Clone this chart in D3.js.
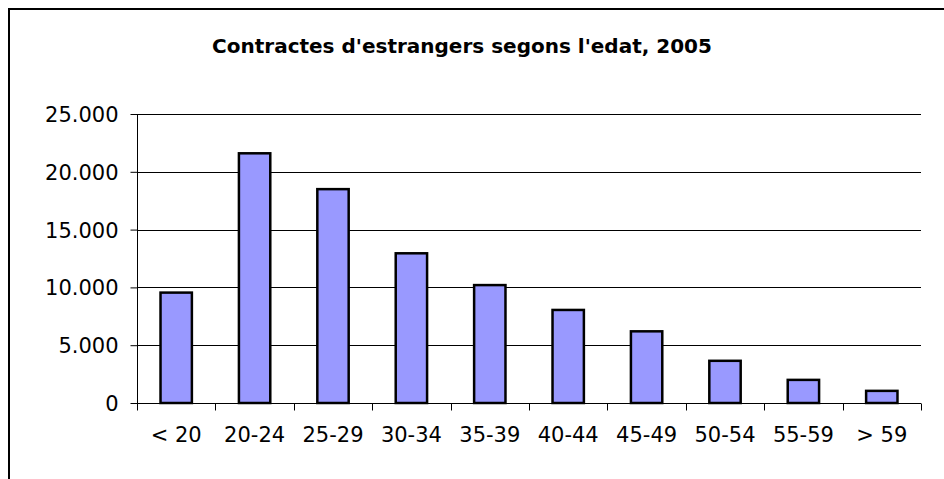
<!DOCTYPE html>
<html>
<head>
<meta charset="utf-8">
<script src="https://cdn.jsdelivr.net/npm/d3@7"></script>
<style>
  html, body { margin: 0; padding: 0; background: #fff; }
  svg { display: block; font-family: "DejaVu Sans", Verdana, sans-serif; }
</style>
</head>
<body>
<div id="chart"></div>
<script>
const categories = ['< 20', '20-24', '25-29', '30-34', '35-39', '40-44', '45-49', '50-54', '55-59', '> 59'];
const contracts  = [9550, 21600, 18500, 12950, 10200, 8050, 6200, 3650, 2000, 1050];
const yTicks     = [0, 5000, 10000, 15000, 20000, 25000];
const title      = "Contractes d'estrangers segons l'edat, 2005";

const width  = 944;
const height = 479;
const margin = { top: 114, right: 23, bottom: 76, left: 137 };

const svg = d3.select('#chart')
  .append('svg')
  .attr('width', width)
  .attr('height', height);

// outer chart frame (runs off the right and bottom edges)
svg.append('rect')
  .attr('x', 9).attr('y', 9)
  .attr('width', 1000).attr('height', 600)
  .attr('fill', '#fff')
  .attr('stroke', '#000')
  .attr('stroke-width', 2);

svg.append('text')
  .attr('x', 462)
  .attr('y', 53)
  .attr('text-anchor', 'middle')
  .style('font-weight', 'bold')
  .style('font-size', '20px')
  .text(title);

const x = d3.scaleBand()
  .domain(categories)
  .range([margin.left, width - margin.right])
  .paddingInner(0)
  .paddingOuter(0);

const y = d3.scaleLinear()
  .domain([0, 25000])
  .range([height - margin.bottom, margin.top]);

const fmt = v => d3.format(',')(v).replace(/,/g, '.');

// gridlines
svg.append('g')
  .selectAll('line')
  .data(yTicks.filter(d => d > 0))
  .join('line')
    .attr('x1', margin.left)
    .attr('x2', width - margin.right)
    .attr('y1', d => Math.round(y(d)) + 0.5)
    .attr('y2', d => Math.round(y(d)) + 0.5)
    .attr('stroke', '#000')
    .attr('stroke-width', 1);

// bars
const barW = x.bandwidth() / 2.5;
svg.append('g')
  .selectAll('rect')
  .data(categories)
  .join('rect')
    .attr('x', d => x(d) + (x.bandwidth() - barW) / 2)
    .attr('y', (d, i) => y(contracts[i]))
    .attr('width', barW)
    .attr('height', (d, i) => y(0) - y(contracts[i]))
    .attr('fill', '#9999FF')
    .attr('stroke', '#000')
    .attr('stroke-width', 2.5);

// y axis
const yAxis = svg.append('g')
  .attr('transform', `translate(${margin.left + 0.5},0)`)
  .call(d3.axisLeft(y).tickValues(yTicks).tickFormat(fmt).tickSize(7).tickPadding(12));
yAxis.select('.domain').remove();
yAxis.append('line')
  .attr('x1', 0).attr('x2', 0)
  .attr('y1', margin.top).attr('y2', height - margin.bottom + 7)
  .attr('stroke', '#000');
yAxis.selectAll('.tick line').attr('stroke', '#000');
yAxis.selectAll('.tick text')
  .attr('fill', '#000')
  .attr('dy', '0.36em')
  .style('font-size', '21px')
  .style('font-family', '"DejaVu Sans", Verdana, sans-serif');

// x axis
const xAxis = svg.append('g')
  .attr('transform', `translate(0,${Math.round(y(0)) + 0.5})`)
  .call(d3.axisBottom(x).tickSize(0).tickPadding(24));
xAxis.select('.domain')
  .attr('d', `M${margin.left},0H${width - margin.right}`)
  .attr('stroke', '#000');
xAxis.selectAll('.tick text')
  .attr('fill', '#000')
  .style('font-size', '21px')
  .style('font-family', '"DejaVu Sans", Verdana, sans-serif');

// category separators
const sepX = categories.map(c => x(c)).concat([width - margin.right]);
xAxis.append('g')
  .selectAll('line')
  .data(sepX)
  .join('line')
    .attr('x1', d => Math.round(d) + 0.5)
    .attr('x2', d => Math.round(d) + 0.5)
    .attr('y1', 0)
    .attr('y2', 7)
    .attr('stroke', '#000');
</script>
</body>
</html>
